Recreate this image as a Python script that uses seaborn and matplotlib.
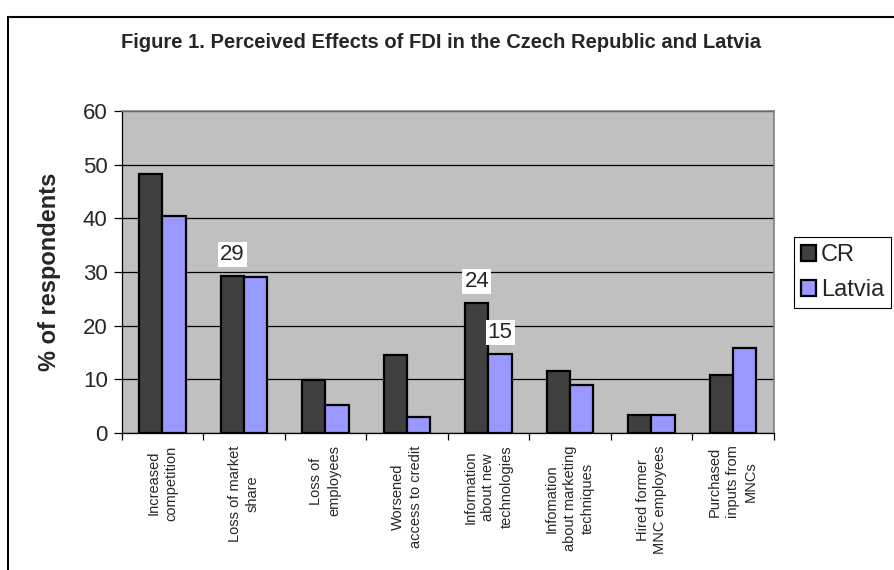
import numpy as np
import pandas as pd
import matplotlib
matplotlib.use("Agg")
import matplotlib.pyplot as plt
from matplotlib.colors import LinearSegmentedColormap
from matplotlib.lines import Line2D
from matplotlib.patches import Patch
import seaborn as sns

# data
effects = ["Increased\ncompetition", "Loss of market\nshare", "Loss of\nemployees",
           "Worsened\naccess to credit", "Information\nabout new\ntechnologies",
           "Infomation\nabout marketing\ntechniques", "Hired former\nMNC employees",
           "Purchased\ninputs from\nMNCs"]
cr = [48.3, 29.3, 9.9, 14.5, 24.2, 11.5, 3.4, 10.8]
latvia = [40.4, 29.0, 5.3, 2.9, 14.7, 9.0, 3.4, 15.8]
countries = ["CR", "Latvia"]
# bars that carry a value label (country, category index)
labeled = [("CR", 1), ("CR", 4), ("Latvia", 4)]

df = pd.DataFrame({"effect": effects * 2,
                   "country": ["CR"] * len(cr) + ["Latvia"] * len(latvia),
                   "pct": cr + latvia})

sns.set_theme(style="white")
plt.rcParams["font.family"] = ["Liberation Sans", "DejaVu Sans"]

fig = plt.figure(figsize=(8.94, 5.7), dpi=100)
ax = fig.add_axes([0.136, 0.2404, 0.7295, 0.5649])
ax.set_facecolor("#C0C0C0")

palette = {"CR": "#404040", "Latvia": "#9999FF"}
sns.barplot(data=df, x="effect", y="pct", hue="country", hue_order=countries,
            palette=palette, width=0.572, gap=0, edgecolor="black", linewidth=1.6,
            saturation=1, legend=False, ax=ax, zorder=3)

# gradient fill on the CR bars, like the Excel original
grad_cmap = LinearSegmentedColormap.from_list("crgrad", ["#2a2a2a", "#5c5c5c"])
grad = np.linspace(0, 1, 100).reshape(-1, 1)
for p in ax.containers[0]:
    x0, w, h = p.get_x(), p.get_width(), p.get_height()
    im = ax.imshow(grad, extent=[x0, x0 + w, 0, h], origin="lower", aspect="auto",
                   cmap=grad_cmap, zorder=2.9)
    im.set_clip_path(p)

# value labels with white boxes
for country, i in labeled:
    p = ax.containers[countries.index(country)][i]
    ax.annotate(f"{p.get_height():.0f}", xy=(p.get_x() + p.get_width() / 2, p.get_height()),
                xytext=(0, 8), textcoords="offset points", ha="center", va="bottom",
                fontsize=16, bbox=dict(fc="white", ec="none", pad=1.5), zorder=5)

ax.set_xlim(-0.5, len(effects) - 0.5)
ax.set_ylim(0, 60)
ax.set_yticks(range(0, 61, 10))
ax.yaxis.grid(True, color="black", linewidth=0.9, zorder=0)
ax.set_axisbelow(True)

ax.set_xticks(range(len(effects)))
ax.set_xticklabels(effects, rotation=90, fontsize=10.5, linespacing=1.35,
                   ha="center", va="top", multialignment="center")
ax.set_xticks(np.arange(-0.5, len(effects), 1), minor=True)
ax.tick_params(axis="x", which="major", length=0, pad=9)
ax.tick_params(axis="x", which="minor", length=5, width=0.9, color="black", direction="out", bottom=True)
ax.tick_params(axis="y", length=6, width=0.9, color="black", direction="out", left=True,
               labelsize=16, pad=4)

ax.set_xlabel("")
ax.set_ylabel("% of respondents", fontsize=17, fontweight="bold", labelpad=16)

for side in ["left", "bottom"]:
    ax.spines[side].set_color("black")
    ax.spines[side].set_linewidth(0.9)
for side in ["top", "right"]:
    ax.spines[side].set_color("#808080")
    ax.spines[side].set_linewidth(1.2)

fig.text(0.493, 0.925, "Figure 1. Perceived Effects of FDI in the Czech Republic and Latvia",
         ha="center", va="center", fontsize=14.5, fontweight="bold")

handles = [Patch(facecolor=palette[c], edgecolor="black", linewidth=1.6) for c in countries]
fig.legend(handles, countries, loc="upper left", bbox_to_anchor=(794 / 894, 1 - 237 / 570),
           fontsize=17, frameon=True, fancybox=False, edgecolor="black", framealpha=1,
           handlelength=0.65, handleheight=0.65, handletextpad=0.2, borderpad=0.3,
           labelspacing=0.55, borderaxespad=0)
fig.legends[0].get_frame().set_linewidth(0.8)

# outer chart border (left and top visible)
fig.add_artist(Line2D([8 / 894, 8 / 894], [0, 1 - 17 / 570], color="black", linewidth=1.5))
fig.add_artist(Line2D([8 / 894, 1], [1 - 17 / 570, 1 - 17 / 570], color="black", linewidth=1.5))

fig.savefig("out.png", dpi=100)
